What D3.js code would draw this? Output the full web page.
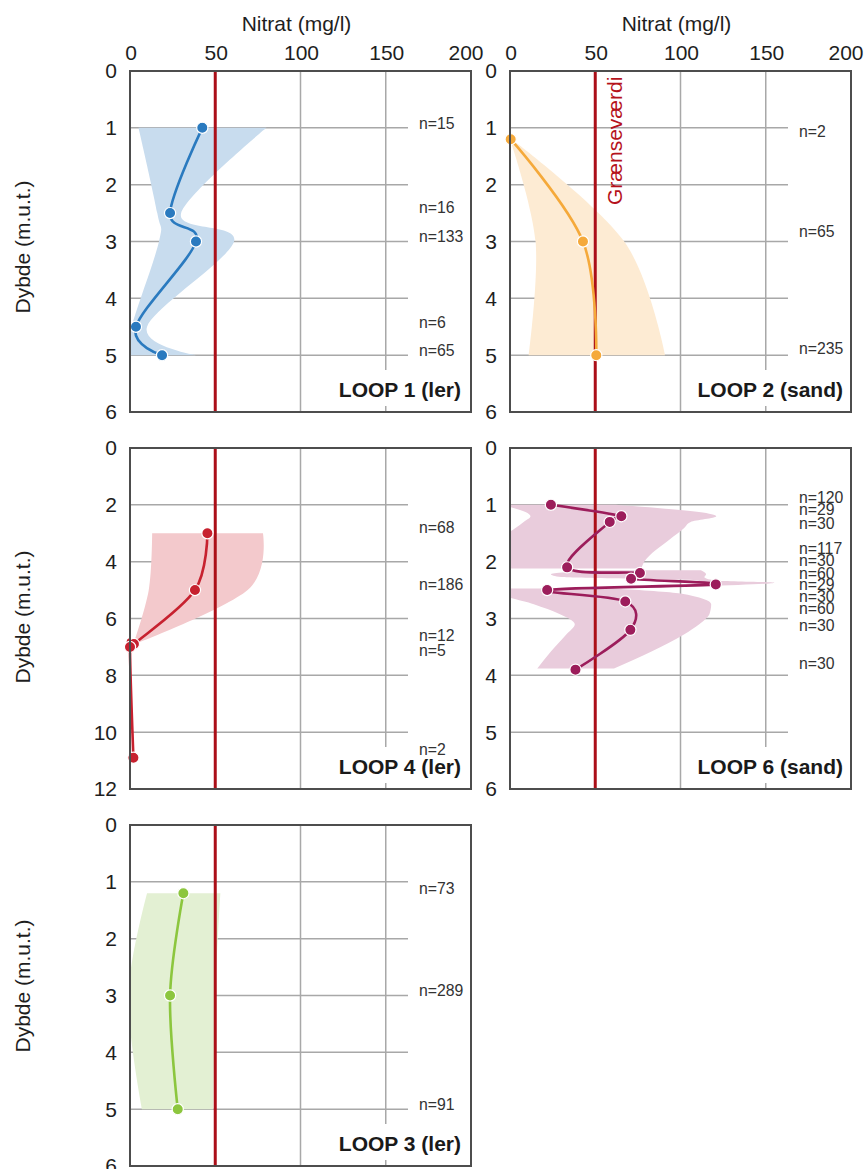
<!DOCTYPE html>
<html>
<head>
<meta charset="utf-8">
<script src="https://cdn.jsdelivr.net/npm/d3@7"></script>
<style>
  body { margin: 0; background: #fff; }
  svg { display: block; }
  text { font-family: "Liberation Sans", Arial, Helvetica, sans-serif; }
</style>
</head>
<body>
<svg id="chart" width="866" height="1169"></svg>
<script>
// ---- Nitrate profiles per LOOP catchment ----
const nitrateTicks = [0, 50, 100, 150, 200];
const limitValue = 50; // drinking water limit, mg/l

// LOOP 1 (ler)
const loop1Depth   = [1.0, 2.5, 3.0, 4.5, 5.0];
const loop1Nitrate = [42.4, 23.5, 38.7, 3.5, 18.8];
const loop1Low     = [5, 16, 17, 1, 0];
const loop1High    = [80, 30, 61, 10, 39];
const loop1Count   = [15, 16, 133, 6, 65];
const loop1CountDepth = [0.92, 2.41, 2.92, 4.42, 4.91];

// LOOP 2 (sand)
const loop2Depth   = [1.2, 3.0, 5.0];
const loop2Nitrate = [0.4, 42.8, 50.6];
const loop2Low     = [0, 15, 11];
const loop2High    = [1, 67, 91];
const loop2Count   = [2, 65, 235];
const loop2CountDepth = [1.06, 2.83, 4.89];

// LOOP 4 (ler)
const loop4Depth   = [3.0, 5.0, 6.9, 7.0, 10.9];
const loop4Nitrate = [45.4, 38.1, 2.3, 0, 2.0];
const loop4BandDepth = [3.0, 5.0, 6.9];
const loop4Low     = [13, 11, 2];
const loop4High    = [78, 69, 3];
const loop4Count   = [68, 186, 12, 5, 2];
const loop4CountDepth = [2.81, 4.79, 6.6, 7.13, 10.62];

// LOOP 6 (sand)
const loop6Depth   = [1.0, 1.2, 1.3, 2.1, 2.2, 2.3, 2.4, 2.5, 2.7, 3.2, 3.9];
const loop6Nitrate = [24.0, 65.3, 58.5, 33.5, 76.2, 71.0, 120.7, 21.8, 67.6, 70.6, 38.4];
// band outline, null separates the three shaded parts
const loop6BandDepth = [1.00, 1.20, 1.30, 1.41, 1.60, 1.99, 2.12, null,
                        2.15, 2.22, 2.27, 2.33, 2.37, 2.43, null,
                        2.47, 2.56, 2.75, 2.92, 3.10, 3.28, 3.58, 3.88];
const loop6Low  = [-5, 12, 8, 3, -5, -5, -5, null,
                   50, 24, 30, 110, 112, 110, null,
                   -5, -5, 14, 29, 38, 33, 24, 16];
const loop6High = [62, 121, 106, 102, 94, 79, 77, null,
                   112, 115, 114, 120, 155, 114, null,
                   60, 100, 118, 117, 111, 102, 83, 61];
const loop6Count = [120, 29, 30, 117, 30, 60, 29, 30, 60, 30, 30];
const loop6CountDepth = [0.87, 1.09, 1.32, 1.76, 1.98, 2.20, 2.40, 2.62, 2.83, 3.13, 3.80];

// LOOP 3 (ler)
const loop3Depth   = [1.2, 3.0, 5.0];
const loop3Nitrate = [31.3, 23.5, 28.0];
const loop3Low     = [10, -1, 7];
const loop3High    = [53, 50, 49];
const loop3Count   = [73, 289, 91];
const loop3CountDepth = [1.11, 2.92, 4.91];

const depthTicks6  = [0, 1, 2, 3, 4, 5, 6];
const depthTicks12 = [0, 2, 4, 6, 8, 10, 12];

// ---- drawing ----
const svg = d3.select("#chart");
const W = 341, H = 341;
const smooth = d3.curveCardinal.tension(0);
const FS = 21;

function zipBand(depths, lo, hi) {
  return depths.map((d, i) => (d === null ? null : { depth: d, lo: lo[i], hi: hi[i] }));
}

function drawPanel(p) {
  const g = svg.append("g").attr("transform", `translate(${p.left},${p.top})`);
  const x = d3.scaleLinear().domain([0, 200]).range([0, W]);
  const y = d3.scaleLinear().domain([0, p.depthMax]).range([0, H]);
  const clipId = "clip-" + p.key;
  g.append("clipPath").attr("id", clipId).append("rect").attr("width", W).attr("height", H);

  // horizontal grid (stops short of the count column)
  g.append("g").selectAll("line").data(p.ticks.slice(1, -1)).join("line")
    .attr("x1", 0).attr("x2", W - 63)
    .attr("y1", d => y(d)).attr("y2", d => y(d))
    .attr("stroke", "#a8a8a8").attr("stroke-width", 1.5);
  // vertical grid
  g.append("g").selectAll("line").data(nitrateTicks.slice(1, -1)).join("line")
    .attr("x1", d => x(d)).attr("x2", d => x(d))
    .attr("y1", 0).attr("y2", H)
    .attr("stroke", "#a8a8a8").attr("stroke-width", 1.5);

  // white backing behind the panel name
  const nameBox = g.append("rect").attr("fill", "#fff");

  // min–max band
  const band = zipBand(p.bandDepth, p.low, p.high);
  const area = d3.area()
    .defined(d => d !== null)
    .y(d => y(d.depth)).x0(d => x(d.lo)).x1(d => x(d.hi))
    .curve(p.bandCurve || smooth);
  g.append("path").attr("d", area(band)).attr("fill", p.bandColor)
    .attr("clip-path", `url(#${clipId})`);

  // limit line
  g.append("line").attr("x1", x(limitValue)).attr("x2", x(limitValue))
    .attr("y1", 0).attr("y2", H).attr("stroke", "#ab0f18").attr("stroke-width", 3);

  // profile line + markers
  const pts = p.depth.map((d, i) => ({ depth: d, v: p.nitrate[i] }));
  const line = d3.line().x(d => x(d.v)).y(d => y(d.depth)).curve(smooth);
  g.append("path").attr("d", line(pts)).attr("fill", "none")
    .attr("stroke", p.color).attr("stroke-width", 2.6);
  g.append("g").selectAll("circle").data(pts).join("circle")
    .attr("cx", d => x(d.v)).attr("cy", d => y(d.depth)).attr("r", 5.6)
    .attr("fill", p.color).attr("stroke", "#fff").attr("stroke-width", 1.2);

  // panel name
  const name = g.append("text")
    .attr("x", W - p.nameInset).attr("y", H - 15)
    .attr("text-anchor", "end").attr("font-size", 21).attr("font-weight", "bold")
    .attr("fill", "#1a1a1a").text(p.name);
  const bb = name.node().getBBox();
  nameBox.attr("x", bb.x - 3).attr("y", H - 42).attr("width", bb.width + 5).attr("height", 36);

  // sample counts
  g.append("g").selectAll("text").data(p.count).join("text")
    .attr("x", 289).attr("y", (d, i) => y(p.countDepth[i])).attr("dy", "0.35em")
    .attr("font-size", 15.8).attr("fill", "#333")
    .text(d => "n=" + d);

  // frame
  g.append("rect").attr("width", W).attr("height", H)
    .attr("fill", "none").attr("stroke", "#4d4d4d").attr("stroke-width", 2);

  // depth tick labels
  g.append("g").selectAll("text").data(p.ticks).join("text")
    .attr("x", -13).attr("y", d => y(d)).attr("dy", "0.35em")
    .attr("text-anchor", "end").attr("font-size", FS).attr("fill", "#1e1e1e")
    .text(d => d);

  if (p.showTop) {
    g.append("g").selectAll("text").data(nitrateTicks).join("text")
      .attr("x", d => x(d)).attr("y", -11)
      .attr("dx", (d, i) => (i === nitrateTicks.length - 1 ? -5 : 1))
      .attr("text-anchor", "middle").attr("font-size", FS).attr("fill", "#1e1e1e")
      .text(d => d);
    g.append("text").attr("x", W / 2 - 4).attr("y", -40)
      .attr("text-anchor", "middle").attr("font-size", FS).attr("fill", "#1e1e1e")
      .text("Nitrat (mg/l)");
  }
  if (p.yTitle) {
    svg.append("text")
      .attr("transform", `translate(30,${p.top + p.yTitle}) rotate(-90)`)
      .attr("text-anchor", "middle").attr("font-size", FS).attr("fill", "#1e1e1e")
      .text("Dybde (m.u.t.)");
  }
  if (p.limitLabel) {
    g.append("text")
      .attr("transform", `translate(${x(limitValue) + 27},134) rotate(-90)`)
      .attr("font-size", FS).attr("fill", "#b5121b")
      .text("Grænseværdi");
  }
}

drawPanel({ key: "l1", name: "LOOP 1 (ler)", left: 130, top: 71, depthMax: 6, ticks: depthTicks6,
  depth: loop1Depth, nitrate: loop1Nitrate, bandDepth: loop1Depth, low: loop1Low, high: loop1High,
  count: loop1Count, countDepth: loop1CountDepth, color: "#2a7abf", bandColor: "#c8dcee",
  showTop: true, yTitle: 176, nameInset: 10 });

drawPanel({ key: "l2", name: "LOOP 2 (sand)", left: 510, top: 71, depthMax: 6, ticks: depthTicks6,
  depth: loop2Depth, nitrate: loop2Nitrate, bandDepth: loop2Depth, low: loop2Low, high: loop2High,
  count: loop2Count, countDepth: loop2CountDepth, color: "#f5a93a", bandColor: "#fdebd3",
  showTop: true, nameInset: 8, limitLabel: true });

drawPanel({ key: "l4", name: "LOOP 4 (ler)", left: 130, top: 448, depthMax: 12, ticks: depthTicks12,
  depth: loop4Depth, nitrate: loop4Nitrate, bandDepth: loop4BandDepth, low: loop4Low, high: loop4High,
  count: loop4Count, countDepth: loop4CountDepth, color: "#c7212f", bandColor: "#f3c9cc",
  yTitle: 169, nameInset: 10 });

drawPanel({ key: "l6", name: "LOOP 6 (sand)", left: 510, top: 448, depthMax: 6, ticks: depthTicks6,
  depth: loop6Depth, nitrate: loop6Nitrate, bandDepth: loop6BandDepth, low: loop6Low, high: loop6High,
  count: loop6Count, countDepth: loop6CountDepth, color: "#9c1d5b", bandColor: "#e9ccdc",
  bandCurve: d3.curveMonotoneY, nameInset: 8 });

drawPanel({ key: "l3", name: "LOOP 3 (ler)", left: 130, top: 825, depthMax: 6, ticks: depthTicks6,
  depth: loop3Depth, nitrate: loop3Nitrate, bandDepth: loop3Depth, low: loop3Low, high: loop3High,
  count: loop3Count, countDepth: loop3CountDepth, color: "#8cc63e", bandColor: "#e3f0d3",
  yTitle: 161, nameInset: 10 });
</script>
</body>
</html>
